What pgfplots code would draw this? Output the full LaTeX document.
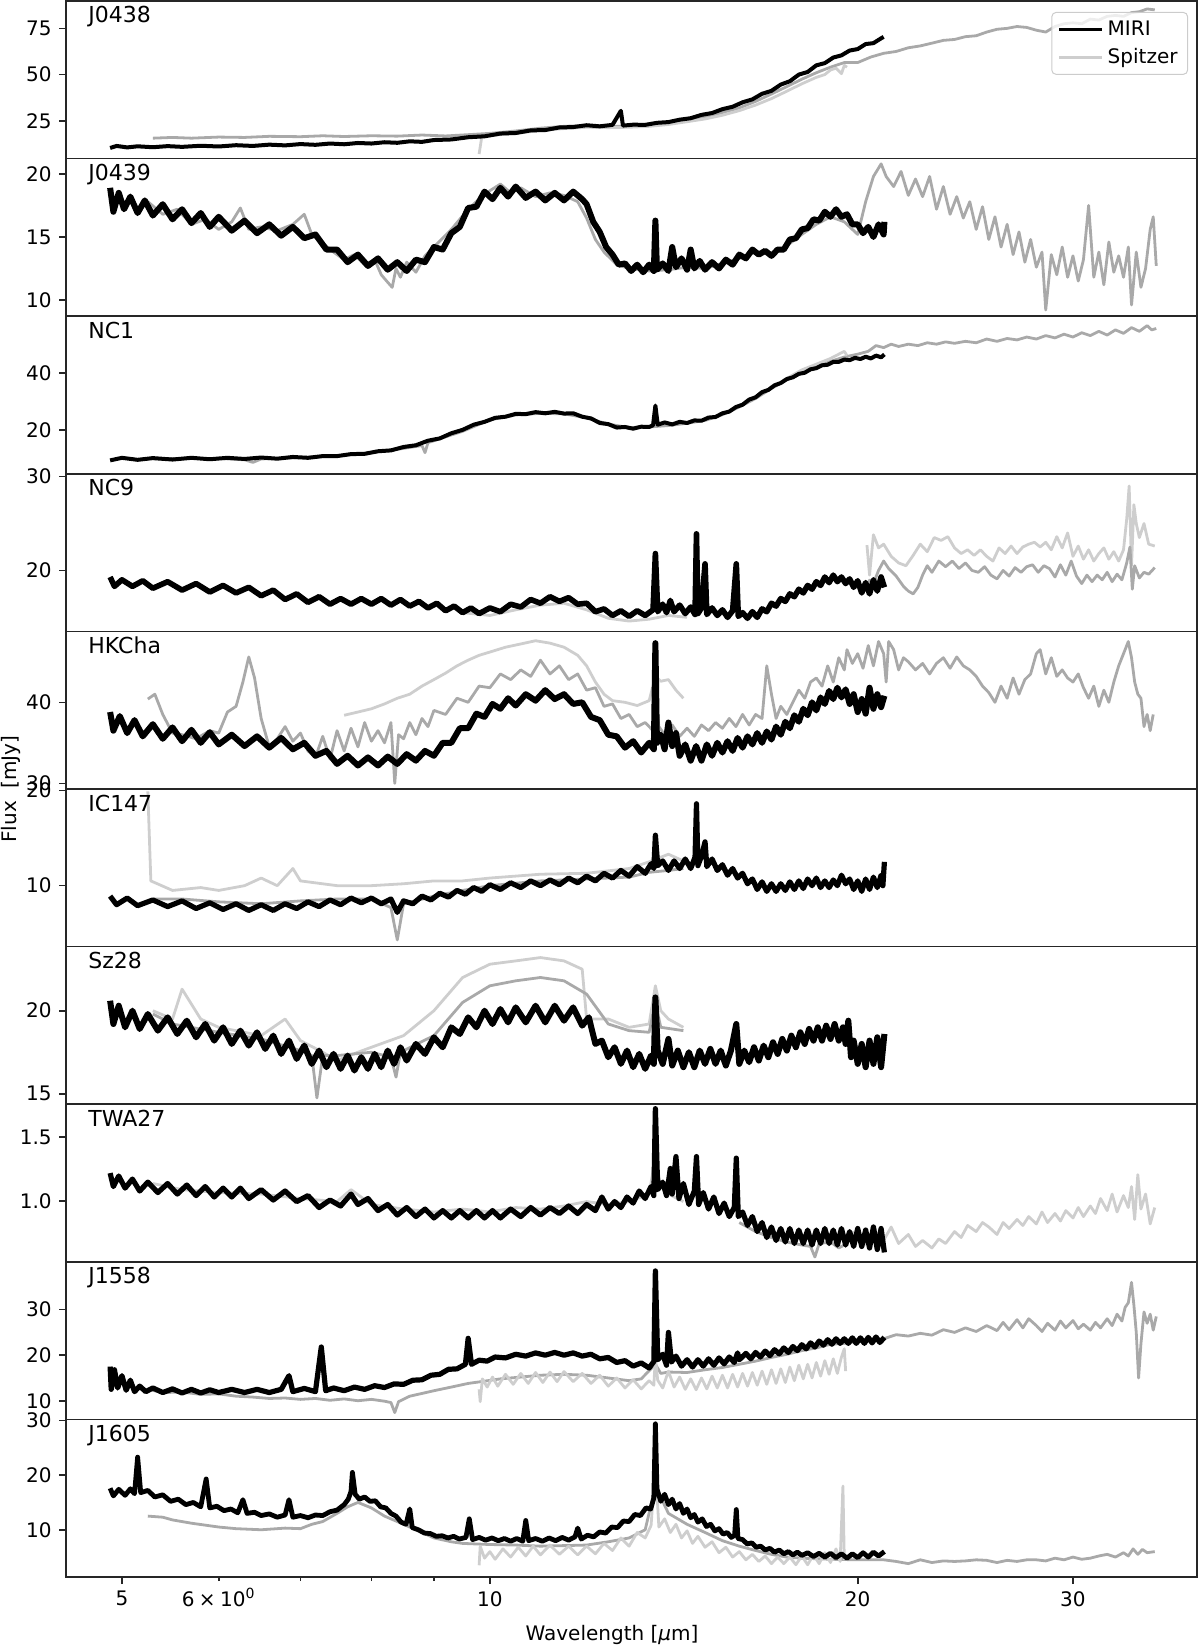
\documentclass[border=0pt]{standalone}
\usepackage{fontspec}
\setmainfont{DejaVu Sans}
\usepackage{pgfplots}
\pgfplotsset{compat=1.18}
\definecolor{spA}{HTML}{A9A9A9}
\definecolor{spB}{HTML}{CECECE}
\pgfplotsset{every axis/.append style={width=565.5pt, height=78.8pt, scale only axis, xmode=log, xmin=4.5, xmax=37.9,
  anchor=north west, axis line style={line width=0.8pt, black!85},
  tick style={line width=0.8pt, black!85}, major tick length=3.5pt, minor tick length=2pt,
  tick align=outside, xtick pos=left, ytick pos=left,
  ticklabel style={font=\fontsize{10}{12}\selectfont},
  yticklabel style={inner sep=0pt, anchor=east, xshift=-3.5pt}},
 every axis plot/.append style={line width=1.4pt, line join=round, mark=none},
 legend image code/.code={\draw[#1] (0pt,0pt) -- (21.5pt,0pt);}}
\newcommand{\plabel}[1]{\node[anchor=base west, inner sep=0pt, font=\fontsize{11}{13}\selectfont, xshift=11pt, yshift=-11pt] at (rel axis cs:0,1) {#1};}
\begin{document}
\begin{tikzpicture}
% ---------------- J0438
\begin{axis}[at={(0pt,0pt)}, xtick=\empty, ymin=4.55, ymax=89.8, ytick={25,50,75}, yticklabels={25,50,75},
 legend style={at={(rel axis cs:1,1)}, anchor=north east, xshift=-4.5pt, yshift=-5.5pt, draw=black!20, line width=0.5pt, rounded corners=2pt, fill=white, fill opacity=0.8, text opacity=1, inner xsep=3pt, inner ysep=2pt, font=\fontsize{10}{12}\selectfont, cells={anchor=west}, row sep=1pt}]
\addplot[spA, forget plot] coordinates {(5.3,15.6)(5.5,16.0)(5.7,15.6)(6.0,16.2)(6.3,16.0)(6.6,16.6)(7.0,16.4)(7.3,16.9)(7.6,16.5)(8.0,16.9)(8.4,16.7)(8.8,17.3)(9.2,16.8)(9.6,17.5)(10.0,18.2)(10.5,19.5)(11.0,21.0)(11.5,22.0)(12.0,22.5)(12.5,22.0)(13.0,22.0)(13.5,22.5)(14.0,23.5)(14.5,25.0)(15.0,27.0)(15.5,29.5)(16.0,32.0)(16.5,35.5)(17.0,39.5)(17.5,43.5)(18.0,47.5)(18.5,51.0)(19.0,54.0)(19.5,56.5)(20.0,56.5)(20.5,59.5)(21.0,61.5)(21.5,62.5)(22.0,64.5)(22.5,65.5)(23.0,67.0)(23.5,68.5)(24.0,69.0)(24.5,70.5)(25.0,71.0)(25.5,73.0)(26.0,74.5)(26.5,75.0)(27.0,76.0)(27.5,75.5)(28.0,74.0)(28.5,73.0)(29.0,76.0)(29.5,77.5)(30.0,78.0)(30.5,77.5)(31.0,80.0)(31.5,79.5)(32.0,81.5)(32.5,82.0)(33.0,81.5)(33.5,83.5)(34.0,84.0)(34.5,85.5)(35.0,85.0)};
\addplot[spB, forget plot] coordinates {(9.8,7.0)(9.85,16.5)(10.2,17.5)(10.6,18.5)(11.0,19.8)(11.5,20.8)(12.0,21.5)(12.5,21.3)(13.0,21.5)(13.5,22.0)(14.0,23.0)(14.5,24.5)(15.0,26.0)(15.5,28.0)(16.0,30.5)(16.5,33.5)(17.0,37.0)(17.5,41.0)(18.0,45.0)(18.5,48.5)(18.8,50.0)(19.0,52.5)(19.2,53.5)(19.4,50.5)(19.5,55.0)(19.6,54.0)};
\addplot[black, line width=2.0pt, forget plot] coordinates {(4.89,10.3)(4.95,11.4)(5.05,10.6)(5.15,11.2)(5.3,10.7)(5.45,11.3)(5.6,10.9)(5.8,11.5)(6.0,11.1)(6.2,11.8)(6.4,11.4)(6.6,12.1)(6.8,11.7)(7.0,12.4)(7.2,12.0)(7.4,12.7)(7.6,12.3)(7.8,13.0)(8.0,12.7)(8.2,13.4)(8.4,13.1)(8.6,13.9)(8.8,13.6)(9.0,14.6)(9.3,14.9)(9.6,16.1)(9.9,16.6)(10.2,18.1)(10.5,18.4)(10.8,19.8)(11.1,20.0)(11.4,21.4)(11.7,21.6)(12.0,22.6)(12.3,22.0)(12.6,22.8)(12.8,30.4)(12.85,22.4)(13.1,22.9)(13.4,22.8)(13.7,23.9)(14.0,24.3)(14.3,25.6)(14.6,26.4)(14.9,28.2)(15.2,29.2)(15.5,31.3)(15.8,32.6)(16.1,35.0)(16.4,36.6)(16.7,39.6)(17.0,41.2)(17.3,44.6)(17.6,46.4)(17.9,50.0)(18.2,51.4)(18.5,55.0)(18.8,56.2)(19.1,59.2)(19.4,60.4)(19.7,63.0)(20.0,63.8)(20.3,66.5)(20.6,67.0)(20.9,69.6)(21.0,70.4)};
\addlegendimage{black, line width=1.4pt}\addlegendentry{MIRI}
\addlegendimage{spB, line width=1.4pt}\addlegendentry{Spitzer}
\plabel{J0438}
\end{axis}
% ---------------- J0439
\begin{axis}[at={(0pt,-78.8pt)}, xtick=\empty, ymin=8.71, ymax=21.22, ytick={10,15,20}, yticklabels={10,15,20}]
\addplot[spA] coordinates {(5.25,17.8)(5.4,16.8)(5.55,17.2)(5.7,16.0)(5.85,16.4)(6.0,15.6)(6.15,16.2)(6.25,17.3)(6.35,15.6)(6.5,15.8)(6.7,15.5)(6.9,16.0)(7.05,16.8)(7.15,15.2)(7.3,14.5)(7.45,13.8)(7.6,13.2)(7.75,13.6)(7.9,12.8)(8.05,13.2)(8.15,12.0)(8.25,11.4)(8.32,11.0)(8.38,12.5)(8.45,11.8)(8.55,13.0)(8.7,12.2)(8.85,13.5)(9.0,14.2)(9.3,15.6)(9.6,17.2)(9.9,18.4)(10.2,19.2)(10.4,18.5)(10.6,18.9)(10.9,18.2)(11.2,18.5)(11.5,18.3)(11.8,17.8)(12.0,16.5)(12.2,14.8)(12.4,13.8)(12.7,12.8)(13.0,12.5)(13.5,12.3)(14.0,12.4)(14.5,12.6)(15.0,12.5)(15.5,12.9)(16.0,13.3)(16.5,13.8)(17.0,13.6)(17.5,14.3)(18.0,15.2)(18.5,16.0)(19.0,16.6)(19.5,16.2)(20.0,15.2)(20.3,17.8)(20.6,19.8)(20.9,20.8)(21.1,19.8)(21.4,19.0)(21.7,20.2)(22.0,18.3)(22.3,19.6)(22.6,18.2)(22.9,19.8)(23.2,17.2)(23.5,19.0)(23.8,16.8)(24.1,18.2)(24.4,16.5)(24.7,17.8)(25.0,15.6)(25.3,17.4)(25.6,14.8)(25.9,16.6)(26.2,14.2)(26.5,16.0)(26.8,13.6)(27.1,15.4)(27.4,13.0)(27.7,14.8)(28.0,12.6)(28.3,13.8)(28.5,9.2)(28.8,13.6)(29.1,12.0)(29.4,14.2)(29.7,11.8)(30.0,13.5)(30.3,11.5)(30.6,13.2)(30.9,17.5)(31.2,11.8)(31.5,13.8)(31.8,11.2)(32.1,14.6)(32.4,12.2)(32.7,13.5)(33.0,11.8)(33.3,14.2)(33.5,9.6)(33.8,13.8)(34.1,11.0)(34.4,12.5)(34.7,15.6)(34.9,16.6)(35.1,12.7)};
\addplot[black, line width=3.0pt] coordinates {(4.89,18.9)(4.92,17.0)(4.97,18.5)(5.02,17.2)(5.08,18.2)(5.15,16.9)(5.22,17.9)(5.3,16.7)(5.4,17.6)(5.5,16.4)(5.6,17.2)(5.7,16.1)(5.8,16.9)(5.9,15.8)(6.0,16.6)(6.15,15.5)(6.3,16.3)(6.45,15.3)(6.6,16.0)(6.75,15.1)(6.9,15.8)(7.05,14.9)(7.2,15.2)(7.35,14.0)(7.5,14.0)(7.65,13.0)(7.8,13.6)(7.95,12.7)(8.1,13.3)(8.25,12.4)(8.4,13.0)(8.55,12.3)(8.7,13.2)(8.85,13.0)(9.0,14.2)(9.15,14.0)(9.3,15.3)(9.45,15.8)(9.6,17.3)(9.75,17.4)(9.9,18.6)(10.05,18.0)(10.2,18.9)(10.35,18.2)(10.5,19.0)(10.7,18.1)(10.9,18.6)(11.1,17.9)(11.3,18.5)(11.5,17.9)(11.7,18.6)(11.9,18.0)(12.0,17.6)(12.15,16.2)(12.3,15.4)(12.45,14.2)(12.6,13.6)(12.75,12.8)(12.9,12.9)(13.05,12.3)(13.2,12.8)(13.35,12.2)(13.5,12.8)(13.62,12.3)(13.66,16.3)(13.7,12.4)(13.85,12.9)(14.0,12.3)(14.1,14.2)(14.2,12.6)(14.35,13.3)(14.5,12.4)(14.6,14.0)(14.7,12.5)(14.85,13.1)(15.0,12.4)(15.2,13.0)(15.4,12.5)(15.6,13.2)(15.8,12.8)(16.0,13.6)(16.2,13.3)(16.4,14.0)(16.6,13.6)(16.8,13.9)(17.0,13.5)(17.2,14.0)(17.4,14.0)(17.6,14.8)(17.8,14.9)(18.0,15.6)(18.2,15.7)(18.4,16.4)(18.6,16.3)(18.8,17.0)(19.0,16.6)(19.2,17.2)(19.4,16.6)(19.6,16.8)(19.8,16.0)(20.0,16.0)(20.2,15.3)(20.4,15.8)(20.6,15.0)(20.8,16.0)(21.0,15.2)(21.03,16.2)};
\plabel{J0439}
\end{axis}
% ---------------- NC1
\begin{axis}[at={(0pt,-157.6pt)}, xtick=\empty, ymin=4.6, ymax=59.8, ytick={20,40}, yticklabels={20,40}]
\addplot[spA] coordinates {(5.3,9.9)(6.0,10.0)(6.3,9.5)(6.4,8.6)(6.5,9.8)(7.0,10.3)(7.5,10.9)(8.0,12.0)(8.5,13.5)(8.8,14.5)(8.85,12.0)(8.9,15.5)(9.5,19.5)(10.0,23.5)(10.5,25.2)(11.0,25.8)(11.5,25.6)(12.0,24.2)(12.5,22.0)(13.0,20.8)(13.5,21.0)(14.0,21.5)(14.5,22.3)(15.0,23.3)(15.5,25.3)(16.0,28.0)(16.5,31.0)(17.0,34.5)(17.5,37.5)(18.0,40.0)(18.5,42.0)(19.0,44.0)(19.5,45.5)(20.0,46.5)(20.4,47.5)(20.7,49.5)(21.0,48.8)(21.3,50.0)(21.6,49.2)(22.0,50.0)(22.4,49.5)(22.8,50.5)(23.2,50.0)(23.6,50.8)(24.0,50.3)(24.5,51.0)(25.0,50.5)(25.5,51.8)(26.0,51.0)(26.5,52.0)(27.0,51.5)(27.5,52.5)(28.0,51.8)(28.5,53.0)(29.0,52.2)(29.5,53.5)(30.0,52.5)(30.5,54.0)(31.0,53.0)(31.5,54.5)(32.0,53.2)(32.5,55.0)(33.0,53.8)(33.5,55.8)(34.0,54.5)(34.5,56.5)(34.8,55.0)(35.1,55.5)};
\addplot[spB] coordinates {(17.5,38.0)(18.0,41.0)(18.5,43.0)(19.0,45.0)(19.5,47.5)(19.6,46.0)};
\addplot[black, line width=2.0pt] coordinates {(4.89,9.3)(5.0,10.2)(5.15,9.5)(5.3,10.1)(5.5,9.6)(5.7,10.2)(5.9,9.7)(6.1,10.2)(6.3,9.8)(6.5,10.3)(6.7,9.9)(6.9,10.5)(7.1,10.2)(7.3,10.8)(7.5,10.8)(7.7,11.5)(7.9,11.6)(8.1,12.5)(8.3,12.8)(8.5,14.0)(8.7,14.6)(8.9,16.2)(9.1,17.0)(9.3,18.8)(9.5,20.0)(9.7,21.8)(9.9,22.8)(10.1,24.2)(10.3,24.6)(10.5,25.6)(10.7,25.5)(10.9,26.2)(11.1,25.8)(11.3,26.3)(11.5,25.7)(11.7,25.8)(11.9,24.6)(12.1,24.0)(12.3,22.4)(12.5,22.0)(12.7,20.8)(12.9,21.0)(13.1,20.4)(13.3,21.1)(13.5,21.0)(13.6,21.6)(13.66,28.5)(13.72,21.8)(13.9,22.6)(14.1,21.9)(14.3,22.8)(14.5,22.4)(14.7,23.3)(14.9,23.2)(15.1,24.3)(15.3,24.5)(15.5,25.8)(15.7,26.4)(15.9,28.0)(16.1,28.8)(16.3,30.6)(16.5,31.4)(16.7,33.2)(16.9,34.0)(17.1,35.6)(17.3,36.4)(17.5,37.8)(17.7,38.4)(17.9,39.6)(18.1,40.0)(18.3,41.2)(18.5,41.6)(18.7,42.6)(18.9,42.8)(19.1,43.8)(19.3,43.8)(19.5,44.6)(19.7,44.4)(19.9,45.2)(20.1,44.8)(20.3,45.6)(20.5,45.0)(20.7,46.0)(20.9,45.4)(21.03,46.4)};
\plabel{NC1}
\end{axis}
% ---------------- NC9
\begin{axis}[at={(0pt,-236.4pt)}, xtick=\empty, ymin=13.5, ymax=30.3, ytick={20,30}, yticklabels={20,30}]
\addplot[spB] coordinates {(9.5,15.5)(10.0,15.2)(10.5,15.8)(11.0,16.3)(11.5,16.5)(12.0,15.8)(12.5,14.9)(13.0,14.6)(13.5,14.8)(14.0,15.2)(14.5,15.0)};
\addplot[spB] coordinates {(20.35,22.7)(20.45,19.5)(20.6,23.8)(20.8,22.4)(21.0,22.8)(21.3,21.5)(21.6,20.8)(21.9,20.5)(22.2,21.6)(22.5,22.8)(22.8,22.0)(23.1,23.5)(23.4,23.2)(23.7,23.6)(24.0,22.4)(24.3,21.8)(24.6,22.2)(24.9,21.6)(25.2,22.2)(25.5,21.5)(25.8,21.0)(26.1,22.4)(26.4,21.8)(26.7,22.6)(27.0,21.8)(27.3,22.5)(27.6,22.8)(27.9,23.0)(28.2,22.5)(28.5,23.0)(28.8,22.2)(29.1,23.6)(29.4,22.4)(29.7,24.0)(30.0,21.5)(30.3,22.6)(30.6,21.2)(30.9,22.2)(31.2,21.0)(31.5,21.8)(31.8,22.4)(32.1,21.2)(32.4,22.0)(32.7,21.0)(33.0,22.2)(33.2,25.5)(33.35,29.0)(33.5,20.5)(33.65,27.0)(33.8,25.0)(34.0,23.5)(34.3,25.0)(34.6,22.8)(35.0,22.6)};
\addplot[spA] coordinates {(20.4,19.0)(20.6,18.6)(20.8,20.0)(21.0,21.0)(21.2,20.2)(21.5,19.4)(21.8,18.3)(22.0,17.8)(22.2,17.5)(22.4,18.2)(22.6,19.5)(22.8,20.5)(23.0,19.8)(23.3,21.0)(23.6,20.4)(23.9,21.0)(24.2,20.2)(24.5,20.8)(24.8,20.0)(25.1,19.8)(25.4,20.4)(25.7,19.5)(26.0,19.1)(26.3,20.0)(26.6,19.4)(26.9,20.3)(27.2,19.8)(27.5,20.4)(27.8,20.6)(28.1,19.8)(28.4,20.5)(28.7,20.2)(29.0,19.3)(29.3,20.6)(29.6,19.5)(29.9,21.0)(30.2,19.4)(30.5,18.6)(30.8,19.5)(31.1,18.8)(31.4,19.5)(31.7,19.0)(32.0,19.8)(32.3,18.8)(32.6,19.6)(32.9,19.0)(33.2,20.8)(33.4,22.5)(33.55,18.0)(33.7,20.5)(34.0,19.2)(34.3,19.8)(34.6,19.6)(35.0,20.3)};
\addplot[black, line width=2.8pt] coordinates {(4.89,19.3)(4.93,18.3)(5.0,19.0)(5.1,18.3)(5.2,18.9)(5.3,18.1)(5.45,18.8)(5.6,17.9)(5.75,18.6)(5.9,17.7)(6.05,18.4)(6.2,17.6)(6.35,18.2)(6.5,17.3)(6.65,17.9)(6.8,16.9)(6.95,17.5)(7.1,16.6)(7.25,17.2)(7.4,16.4)(7.55,17.0)(7.7,16.4)(7.85,17.0)(8.0,16.4)(8.15,17.0)(8.3,16.3)(8.45,16.9)(8.6,16.2)(8.75,16.7)(8.9,16.0)(9.05,16.5)(9.2,15.7)(9.35,16.2)(9.5,15.5)(9.65,16.0)(9.8,15.4)(10.0,16.0)(10.2,15.6)(10.4,16.4)(10.6,16.1)(10.8,16.9)(11.0,16.5)(11.2,17.2)(11.4,16.7)(11.6,17.1)(11.8,16.4)(12.0,16.5)(12.2,15.6)(12.4,15.9)(12.6,15.2)(12.8,15.7)(13.0,15.1)(13.2,15.7)(13.4,15.2)(13.6,15.8)(13.66,21.8)(13.72,15.6)(13.85,16.4)(13.95,15.5)(14.05,16.8)(14.15,15.6)(14.3,16.3)(14.45,15.4)(14.6,16.1)(14.72,15.3)(14.76,23.9)(14.8,15.4)(14.9,16.0)(15.0,20.7)(15.05,15.3)(15.2,16.0)(15.35,15.2)(15.5,15.8)(15.65,15.0)(15.8,15.7)(15.91,20.7)(15.97,15.1)(16.1,15.5)(16.25,14.9)(16.4,15.6)(16.55,15.0)(16.7,15.9)(16.85,15.6)(17.0,16.5)(17.15,16.2)(17.3,17.0)(17.45,16.7)(17.6,17.5)(17.75,17.2)(17.9,18.0)(18.05,17.6)(18.2,18.4)(18.35,18.0)(18.5,18.8)(18.65,18.4)(18.8,19.3)(18.95,18.7)(19.1,19.5)(19.25,18.8)(19.4,19.3)(19.55,18.6)(19.7,19.1)(19.85,18.2)(20.0,18.9)(20.15,17.6)(20.3,18.7)(20.45,17.5)(20.6,19.0)(20.75,17.8)(20.9,19.3)(21.03,18.2)};
\plabel{NC9}
\end{axis}
% ---------------- HKCha
\begin{axis}[at={(0pt,-315.2pt)}, xtick=\empty, ymin=29.3, ymax=48.75, ytick={30,40}, yticklabels={30,40}]
\addplot[spB] coordinates {(7.6,38.4)(7.8,38.8)(8.0,39.2)(8.2,39.8)(8.4,40.5)(8.6,41.0)(8.8,42.0)(9.0,42.8)(9.2,43.6)(9.4,44.5)(9.6,45.2)(9.8,45.8)(10.0,46.2)(10.3,46.8)(10.6,47.2)(10.9,47.6)(11.2,47.3)(11.5,46.8)(11.8,45.8)(12.0,44.5)(12.2,42.5)(12.4,41.0)(12.6,40.2)(12.9,40.0)(13.2,39.6)(13.5,40.2)(13.66,43.2)(13.8,42.6)(14.0,42.8)(14.2,41.5)(14.4,40.5)};
\addplot[spA] coordinates {(5.25,40.4)(5.32,41.0)(5.4,38.5)(5.5,36.2)(5.6,36.0)(5.75,35.5)(5.9,36.5)(6.0,36.2)(6.1,38.8)(6.2,39.5)(6.28,42.5)(6.35,45.6)(6.42,43.0)(6.5,38.0)(6.6,34.5)(6.7,35.5)(6.8,37.0)(6.9,35.2)(7.0,36.2)(7.1,34.0)(7.2,33.2)(7.3,35.8)(7.4,33.0)(7.5,36.5)(7.6,34.0)(7.7,36.8)(7.8,34.5)(7.9,37.5)(8.0,35.2)(8.1,36.5)(8.2,35.0)(8.3,37.5)(8.36,30.0)(8.42,36.0)(8.5,35.5)(8.6,37.5)(8.7,36.0)(8.8,38.0)(8.9,37.0)(9.0,39.0)(9.2,38.5)(9.4,40.5)(9.6,40.0)(9.8,42.0)(10.0,41.8)(10.2,43.5)(10.4,42.8)(10.6,44.0)(10.8,43.2)(11.0,45.2)(11.2,43.5)(11.4,44.5)(11.6,42.8)(11.8,43.5)(12.0,41.5)(12.2,41.8)(12.4,39.5)(12.6,39.8)(12.8,38.0)(13.0,38.5)(13.2,37.0)(13.4,37.5)(13.6,36.5)(13.66,41.0)(13.75,37.0)(13.9,36.0)(14.1,37.2)(14.3,35.8)(14.5,36.8)(14.7,35.8)(14.9,37.2)(15.1,36.5)(15.3,37.5)(15.5,36.8)(15.7,38.0)(15.9,37.0)(16.1,38.5)(16.3,37.2)(16.5,38.5)(16.7,38.0)(16.85,44.5)(17.0,41.0)(17.15,38.0)(17.3,39.5)(17.5,38.5)(17.7,40.0)(17.9,41.5)(18.1,40.5)(18.3,42.5)(18.5,43.0)(18.7,42.0)(18.9,44.5)(19.1,42.5)(19.3,45.5)(19.5,44.0)(19.6,46.5)(19.8,44.8)(20.0,46.0)(20.2,44.2)(20.4,47.0)(20.6,44.5)(20.8,47.5)(21.0,46.0)(21.1,42.5)(21.2,47.5)(21.4,46.5)(21.6,44.0)(21.8,45.5)(22.0,45.0)(22.3,44.0)(22.6,44.8)(22.9,43.5)(23.2,44.8)(23.5,45.5)(23.8,44.2)(24.1,45.6)(24.4,44.5)(24.7,44.0)(25.0,43.2)(25.3,42.0)(25.6,41.2)(25.9,40.0)(26.2,42.0)(26.5,40.5)(26.8,43.0)(27.1,41.0)(27.4,42.8)(27.7,43.5)(28.0,46.0)(28.2,46.5)(28.5,43.5)(28.8,45.5)(29.1,43.2)(29.4,44.0)(29.7,43.0)(30.0,42.5)(30.3,43.5)(30.6,41.8)(30.9,40.5)(31.2,42.0)(31.5,39.5)(31.8,41.5)(32.1,40.0)(32.4,42.5)(32.7,44.5)(33.0,46.0)(33.3,47.5)(33.5,45.5)(33.7,42.5)(33.9,41.0)(34.1,40.5)(34.3,37.0)(34.5,38.5)(34.7,36.5)(34.9,38.5)};
\addplot[black, line width=3.0pt] coordinates {(4.89,38.8)(4.92,36.5)(4.98,38.3)(5.05,36.2)(5.12,37.8)(5.2,35.8)(5.3,37.3)(5.4,35.5)(5.5,36.9)(5.6,35.2)(5.7,36.6)(5.8,35.0)(5.9,36.3)(6.0,34.8)(6.15,36.0)(6.3,34.6)(6.45,35.8)(6.6,34.4)(6.75,35.6)(6.9,34.2)(7.05,35.0)(7.2,33.4)(7.35,34.0)(7.5,32.4)(7.65,33.4)(7.8,32.2)(7.95,33.2)(8.1,32.2)(8.25,33.3)(8.4,32.4)(8.55,33.6)(8.7,32.8)(8.85,34.0)(9.0,33.4)(9.15,35.0)(9.3,35.0)(9.45,36.8)(9.6,36.8)(9.75,38.6)(9.9,38.2)(10.05,39.8)(10.2,39.2)(10.35,40.5)(10.5,39.6)(10.7,41.0)(10.9,40.2)(11.1,41.5)(11.3,40.4)(11.5,41.0)(11.7,39.8)(11.9,40.0)(12.1,38.2)(12.3,37.8)(12.5,36.0)(12.7,35.8)(12.9,34.4)(13.1,35.2)(13.3,33.8)(13.5,35.0)(13.62,34.2)(13.66,47.3)(13.7,35.0)(13.8,36.0)(13.9,34.2)(14.0,37.5)(14.1,34.6)(14.2,36.2)(14.3,33.4)(14.45,34.8)(14.6,32.8)(14.75,34.6)(14.9,32.8)(15.05,34.8)(15.2,33.4)(15.35,35.0)(15.5,33.8)(15.65,35.2)(15.8,34.0)(15.95,35.6)(16.1,34.4)(16.25,35.8)(16.4,34.8)(16.55,36.2)(16.7,35.0)(16.85,36.4)(17.0,35.4)(17.15,37.0)(17.3,36.0)(17.45,37.6)(17.6,36.8)(17.75,38.4)(17.9,37.6)(18.05,39.2)(18.2,38.4)(18.35,40.0)(18.5,39.0)(18.65,40.6)(18.8,39.8)(18.95,41.4)(19.1,40.4)(19.25,41.8)(19.4,40.6)(19.55,41.6)(19.7,39.8)(19.85,41.0)(20.0,38.8)(20.15,40.4)(20.3,38.6)(20.45,41.8)(20.6,39.2)(20.75,41.0)(20.9,39.4)(21.03,40.8)};
\plabel{HKCha}
\end{axis}
% ---------------- IC147
\begin{axis}[at={(0pt,-394pt)}, xtick=\empty, ymin=3.6, ymax=20.15, ytick={10,20}, yticklabels={10,20}]
\addplot[spB] coordinates {(5.25,19.9)(5.28,10.5)(5.5,9.5)(5.8,9.8)(6.0,9.5)(6.3,10.0)(6.5,10.8)(6.7,10.0)(6.9,11.8)(7.0,10.5)(7.5,10.0)(8.0,10.0)(8.5,10.2)(9.0,10.5)(9.5,10.5)(10.0,10.8)(11.0,11.2)(12.0,11.3)(13.0,11.8)(13.5,12.5)(14.0,13.3)(14.4,12.6)};
\addplot[spA] coordinates {(5.3,8.6)(5.6,8.6)(6.0,8.3)(6.5,8.1)(7.0,8.4)(7.5,8.6)(8.0,8.6)(8.3,7.7)(8.4,4.3)(8.5,8.1)(9.0,8.9)(9.5,9.5)(10.0,10.0)(11.0,10.5)(12.0,10.7)(13.0,10.9)(13.5,11.4)(14.0,11.6)(14.4,11.8)};
\addplot[black, line width=2.6pt] coordinates {(4.89,8.9)(4.95,8.0)(5.05,8.7)(5.15,7.9)(5.3,8.5)(5.45,7.8)(5.6,8.4)(5.75,7.6)(5.9,8.2)(6.05,7.5)(6.2,8.1)(6.35,7.4)(6.5,8.0)(6.65,7.4)(6.8,8.1)(6.95,7.6)(7.1,8.3)(7.25,7.8)(7.4,8.5)(7.55,8.0)(7.7,8.7)(7.85,8.2)(8.0,8.7)(8.15,8.1)(8.3,8.6)(8.4,7.2)(8.5,8.4)(8.65,8.1)(8.8,8.9)(8.95,8.5)(9.1,9.2)(9.25,8.8)(9.4,9.5)(9.55,9.1)(9.7,9.8)(9.85,9.4)(10.0,10.1)(10.2,9.6)(10.4,10.3)(10.6,9.8)(10.8,10.5)(11.0,10.0)(11.2,10.6)(11.4,10.1)(11.6,10.8)(11.8,10.3)(12.0,11.0)(12.2,10.5)(12.4,11.3)(12.6,10.8)(12.8,11.6)(13.0,11.0)(13.2,12.0)(13.4,11.3)(13.55,12.3)(13.62,11.8)(13.66,15.3)(13.72,12.1)(13.85,12.6)(14.0,11.6)(14.15,12.6)(14.3,11.8)(14.45,12.8)(14.6,11.8)(14.72,13.0)(14.76,18.6)(14.8,12.1)(14.9,13.1)(15.0,14.6)(15.05,12.0)(15.2,12.8)(15.35,11.6)(15.5,12.2)(15.65,11.1)(15.8,11.8)(15.95,10.8)(16.1,11.3)(16.25,10.2)(16.4,10.7)(16.55,9.6)(16.7,10.4)(16.85,9.4)(17.0,10.2)(17.15,9.4)(17.3,10.2)(17.45,9.5)(17.6,10.4)(17.75,9.6)(17.9,10.5)(18.05,9.7)(18.2,10.7)(18.35,10.0)(18.5,10.8)(18.65,9.8)(18.8,10.5)(18.95,9.8)(19.1,10.6)(19.25,10.0)(19.4,11.1)(19.55,10.2)(19.7,10.7)(19.85,9.6)(20.0,10.5)(20.15,9.4)(20.3,10.7)(20.45,9.6)(20.6,10.9)(20.75,9.8)(20.9,11.1)(20.97,10.0)(21.03,12.5)};
\plabel{IC147}
\end{axis}
% ---------------- Sz28
\begin{axis}[at={(0pt,-472.8pt)}, xtick=\empty, ymin=14.37, ymax=23.86, ytick={15,20}, yticklabels={15,20}]
\addplot[spB] coordinates {(5.3,20.0)(5.5,19.5)(5.6,21.3)(5.8,19.5)(6.0,19.0)(6.5,18.5)(6.8,19.5)(7.0,18.2)(7.3,17.5)(7.5,17.0)(7.8,17.5)(8.0,17.8)(8.5,18.5)(9.0,20.0)(9.5,22.0)(10.0,22.8)(10.5,23.0)(11.0,23.2)(11.5,23.0)(11.9,22.5)(12.0,19.5)(12.5,19.5)(13.0,19.0)(13.5,19.2)(13.66,21.5)(13.8,20.0)(14.0,19.5)(14.4,19.0)};
\addplot[spA] coordinates {(5.3,19.8)(5.5,19.2)(6.0,18.7)(6.5,18.3)(7.0,17.6)(7.15,17.3)(7.22,14.75)(7.3,17.3)(7.5,17.3)(8.0,17.5)(8.3,17.2)(8.38,16.0)(8.45,17.5)(9.0,18.5)(9.5,20.5)(10.0,21.5)(10.5,21.8)(11.0,22.0)(11.5,21.8)(12.0,21.0)(12.5,19.2)(13.0,18.8)(13.5,18.7)(13.66,20.5)(13.8,19.0)(14.4,18.8)};
\addplot[black, line width=3.0pt] coordinates {(4.89,20.6)(4.92,19.2)(4.97,20.3)(5.03,19.0)(5.1,20.0)(5.17,18.9)(5.25,19.8)(5.35,18.8)(5.45,19.6)(5.55,18.6)(5.65,19.4)(5.75,18.4)(5.85,19.2)(5.95,18.2)(6.05,19.0)(6.15,18.0)(6.25,18.8)(6.35,17.9)(6.45,18.7)(6.55,17.7)(6.65,18.5)(6.75,17.4)(6.85,18.2)(6.95,17.1)(7.05,17.9)(7.15,16.8)(7.25,17.6)(7.35,16.6)(7.45,17.4)(7.55,16.5)(7.65,17.3)(7.75,16.4)(7.85,17.2)(7.95,16.5)(8.05,17.4)(8.15,16.6)(8.25,17.6)(8.35,16.8)(8.45,17.8)(8.55,17.0)(8.7,18.0)(8.85,17.4)(9.0,18.4)(9.15,17.8)(9.3,19.0)(9.45,18.6)(9.6,19.6)(9.75,19.0)(9.9,20.0)(10.05,19.2)(10.2,20.1)(10.35,19.3)(10.5,20.2)(10.7,19.3)(10.9,20.3)(11.1,19.3)(11.3,20.3)(11.5,19.4)(11.7,20.2)(11.9,19.1)(12.05,19.6)(12.2,18.0)(12.35,18.2)(12.5,17.2)(12.65,17.8)(12.8,16.8)(12.95,17.6)(13.1,16.6)(13.25,17.4)(13.4,16.5)(13.55,17.3)(13.62,16.8)(13.66,20.8)(13.72,17.6)(13.85,16.8)(14.0,18.3)(14.1,16.7)(14.25,17.6)(14.4,16.6)(14.55,17.5)(14.7,16.6)(14.85,17.6)(15.0,16.8)(15.15,17.7)(15.3,16.8)(15.45,17.6)(15.6,16.7)(15.75,17.6)(15.91,19.2)(16.0,16.8)(16.15,17.6)(16.3,16.9)(16.45,17.8)(16.6,17.0)(16.75,17.9)(16.9,17.2)(17.05,18.1)(17.2,17.4)(17.35,18.3)(17.5,17.6)(17.65,18.5)(17.8,17.8)(17.95,18.7)(18.1,18.0)(18.25,18.9)(18.4,18.2)(18.55,19.0)(18.7,18.2)(18.85,19.1)(19.0,18.3)(19.15,19.2)(19.3,18.2)(19.45,19.0)(19.55,18.0)(19.65,19.4)(19.75,17.2)(19.85,18.2)(20.0,16.8)(20.15,18.0)(20.3,16.6)(20.45,18.2)(20.6,16.8)(20.75,18.4)(20.9,16.6)(21.03,18.6)};
\plabel{Sz28}
\end{axis}
% ---------------- TWA27
\begin{axis}[at={(0pt,-551.6pt)}, xtick=\empty, ymin=0.52, ymax=1.76, ytick={1.0,1.5}, yticklabels={1.0,1.5}]
\addplot[spB] coordinates {(5.3,1.136)(5.6,1.088)(6.0,1.065)(6.5,1.053)(7.0,1.018)(7.5,0.994)(7.7,1.088)(8.0,0.971)(8.5,0.935)(9.0,0.912)(9.5,0.935)(10.0,0.912)(10.5,0.947)(11.0,0.935)(11.5,0.959)(12.0,0.994)(12.5,0.971)(13.0,0.994)(13.5,1.053)(13.66,1.348)(13.8,1.112)(14.0,1.053)(14.4,0.994)};
\addplot[spB] coordinates {(19.8,0.758)(20.2,0.641)(20.6,0.735)(21.0,0.688)(21.3,0.794)(21.6,0.664)(22.0,0.735)(22.3,0.641)(22.6,0.688)(23.0,0.629)(23.3,0.700)(23.6,0.664)(24.0,0.758)(24.3,0.711)(24.6,0.806)(25.0,0.758)(25.3,0.829)(25.6,0.794)(26.0,0.735)(26.3,0.829)(26.6,0.782)(27.0,0.853)(27.3,0.806)(27.6,0.876)(28.0,0.818)(28.3,0.912)(28.6,0.829)(29.0,0.900)(29.3,0.841)(29.6,0.923)(30.0,0.865)(30.3,0.947)(30.6,0.876)(31.0,0.959)(31.3,0.900)(31.6,1.018)(32.0,0.923)(32.3,1.053)(32.6,0.912)(33.0,1.041)(33.3,0.947)(33.5,1.112)(33.7,0.853)(33.9,1.206)(34.1,0.935)(34.4,1.053)(34.7,0.818)(35.0,0.947)};
\addplot[spA] coordinates {(16.0,0.829)(16.5,0.758)(17.0,0.711)(17.5,0.676)(18.0,0.652)(18.3,0.641)(18.45,0.558)(18.6,0.664)(19.0,0.676)(19.3,0.629)(19.6,0.664)};
\addplot[black, line width=2.6pt] coordinates {(4.89,1.218)(4.92,1.112)(4.97,1.195)(5.03,1.100)(5.1,1.171)(5.17,1.077)(5.25,1.147)(5.35,1.065)(5.45,1.136)(5.55,1.053)(5.65,1.124)(5.75,1.041)(5.85,1.112)(5.95,1.030)(6.05,1.100)(6.15,1.030)(6.25,1.100)(6.35,1.018)(6.5,1.088)(6.65,1.006)(6.8,1.077)(6.95,0.994)(7.1,1.041)(7.25,0.947)(7.4,1.006)(7.55,0.959)(7.7,1.053)(7.8,0.971)(7.95,1.018)(8.1,0.923)(8.25,0.971)(8.4,0.888)(8.55,0.947)(8.7,0.876)(8.85,0.935)(9.0,0.865)(9.15,0.923)(9.3,0.865)(9.45,0.923)(9.6,0.865)(9.75,0.923)(9.9,0.865)(10.05,0.923)(10.2,0.865)(10.4,0.935)(10.6,0.876)(10.8,0.947)(11.0,0.888)(11.2,0.947)(11.4,0.900)(11.6,0.959)(11.8,0.900)(12.0,0.971)(12.2,0.923)(12.35,1.030)(12.5,0.935)(12.65,0.994)(12.8,0.947)(12.95,1.030)(13.1,0.982)(13.25,1.077)(13.4,1.018)(13.55,1.112)(13.62,1.041)(13.66,1.725)(13.72,1.088)(13.85,1.147)(13.95,1.041)(14.05,1.254)(14.1,1.053)(14.2,1.348)(14.28,1.018)(14.4,1.136)(14.55,0.971)(14.7,1.077)(14.76,1.348)(14.82,0.971)(14.95,1.065)(15.1,0.935)(15.25,1.030)(15.4,0.900)(15.55,0.982)(15.7,0.876)(15.85,0.947)(15.91,1.336)(15.97,0.876)(16.1,0.912)(16.25,0.806)(16.4,0.876)(16.55,0.758)(16.7,0.829)(16.85,0.711)(17.0,0.794)(17.15,0.688)(17.3,0.782)(17.45,0.676)(17.6,0.782)(17.75,0.664)(17.9,0.770)(18.05,0.664)(18.2,0.770)(18.35,0.652)(18.5,0.770)(18.65,0.664)(18.8,0.782)(18.95,0.664)(19.1,0.770)(19.25,0.652)(19.4,0.782)(19.55,0.652)(19.7,0.758)(19.85,0.641)(20.0,0.782)(20.15,0.641)(20.3,0.770)(20.45,0.629)(20.6,0.794)(20.75,0.617)(20.9,0.782)(21.03,0.594)};
\plabel{TWA27}
\end{axis}
% ---------------- J1558
\begin{axis}[at={(0pt,-630.4pt)}, xtick=\empty, ymin=5.9, ymax=40.5, ytick={10,20,30}, yticklabels={10,20,30}]
\addplot[spA] coordinates {(5.25,12.5)(5.4,11.8)(5.6,11.9)(5.8,11.4)(6.0,11.5)(6.2,11.0)(6.4,10.8)(6.6,10.5)(6.8,10.6)(7.0,10.3)(7.2,10.5)(7.4,10.1)(7.6,10.4)(7.8,10.0)(8.0,10.3)(8.2,9.9)(8.3,9.6)(8.36,7.4)(8.42,9.8)(8.6,11.0)(8.8,11.6)(9.0,12.2)(9.3,13.0)(9.6,13.8)(9.9,14.3)(10.2,14.8)(10.6,15.2)(11.0,15.6)(11.5,15.8)(12.0,15.6)(12.5,15.0)(13.0,14.4)(13.3,14.8)(13.66,18.0)(13.8,16.0)(14.0,16.3)(14.5,16.2)(15.0,16.8)(15.5,17.3)(16.0,18.0)(16.5,18.7)(17.0,19.5)(17.5,20.2)(18.0,21.0)(18.5,21.6)(19.0,22.4)(19.5,22.6)(20.0,23.0)(20.5,23.3)(21.0,23.6)(21.5,24.5)(22.0,24.2)(22.5,24.8)(23.0,24.4)(23.5,25.6)(24.0,25.0)(24.5,26.0)(25.0,25.2)(25.5,26.5)(26.0,25.4)(26.3,27.2)(26.6,25.6)(27.0,27.8)(27.3,26.0)(27.6,28.0)(28.0,26.5)(28.3,25.2)(28.6,27.0)(29.0,25.5)(29.3,27.5)(29.6,26.0)(30.0,27.6)(30.3,25.8)(30.6,26.8)(31.0,25.5)(31.3,27.2)(31.6,26.0)(32.0,28.0)(32.3,26.5)(32.6,29.0)(32.9,27.5)(33.1,30.5)(33.3,31.5)(33.5,36.0)(33.65,31.0)(33.8,25.0)(33.95,15.0)(34.1,22.5)(34.3,29.5)(34.5,27.0)(34.7,29.0)(34.9,25.5)(35.1,28.5)};
\addplot[spB] coordinates {(9.8,12.5)(9.82,9.8)(9.86,14.8)(9.95,13.0)(10.05,15.2)(10.15,13.2)(10.3,15.8)(10.45,13.6)(10.6,16.0)(10.75,13.8)(10.9,16.2)(11.05,14.0)(11.2,16.3)(11.35,14.2)(11.5,16.4)(11.7,14.2)(11.9,16.0)(12.1,13.8)(12.3,15.6)(12.5,13.2)(12.7,15.0)(12.9,12.8)(13.1,14.6)(13.3,12.6)(13.5,14.4)(13.62,13.4)(13.66,19.5)(13.72,14.5)(13.85,12.8)(14.0,16.5)(14.15,13.0)(14.3,15.2)(14.45,12.5)(14.6,14.8)(14.75,12.4)(14.9,15.0)(15.05,12.6)(15.2,15.4)(15.35,12.8)(15.5,15.6)(15.65,12.8)(15.8,15.8)(15.95,13.0)(16.1,16.0)(16.25,13.2)(16.4,16.2)(16.55,13.4)(16.7,16.5)(16.85,13.6)(17.0,16.8)(17.15,13.8)(17.3,17.0)(17.45,14.0)(17.6,17.4)(17.75,14.4)(17.9,17.8)(18.05,14.8)(18.2,18.0)(18.35,15.0)(18.5,18.4)(18.65,15.4)(18.8,18.8)(18.95,15.8)(19.1,19.2)(19.25,16.0)(19.4,19.6)(19.5,21.4)(19.55,16.5)};
\addplot[black, line width=2.6pt] coordinates {(4.89,17.5)(4.9,12.5)(4.93,16.8)(4.96,12.8)(5.0,15.5)(5.04,12.3)(5.08,14.5)(5.12,12.0)(5.17,13.2)(5.23,12.0)(5.3,12.8)(5.4,11.8)(5.5,12.6)(5.6,11.7)(5.7,12.5)(5.8,11.7)(5.9,12.4)(6.0,11.8)(6.15,12.5)(6.3,11.8)(6.45,12.5)(6.6,11.8)(6.75,12.5)(6.85,15.5)(6.9,12.0)(7.05,12.7)(7.2,12.0)(7.28,21.8)(7.34,12.2)(7.45,12.8)(7.6,12.2)(7.75,13.0)(7.9,12.5)(8.05,13.3)(8.2,12.9)(8.35,13.7)(8.5,13.6)(8.65,14.5)(8.8,14.6)(8.95,15.6)(9.1,15.8)(9.25,16.9)(9.4,17.0)(9.55,18.0)(9.6,23.7)(9.66,18.0)(9.8,18.9)(9.95,18.7)(10.1,19.6)(10.3,19.4)(10.5,20.2)(10.7,19.8)(10.9,20.5)(11.1,20.0)(11.3,20.6)(11.5,20.0)(11.7,20.5)(11.9,19.8)(12.1,20.2)(12.3,19.2)(12.5,19.5)(12.7,18.4)(12.9,18.8)(13.1,17.6)(13.3,18.3)(13.5,17.2)(13.62,18.6)(13.66,38.5)(13.72,19.0)(13.85,20.2)(13.95,17.8)(14.0,25.0)(14.08,18.5)(14.2,19.8)(14.35,17.6)(14.5,19.0)(14.65,17.4)(14.8,19.0)(14.95,17.6)(15.1,19.2)(15.25,17.8)(15.4,19.4)(15.55,18.1)(15.7,19.6)(15.85,18.4)(15.95,20.5)(16.0,19.0)(16.2,20.4)(16.35,19.2)(16.5,20.6)(16.65,19.6)(16.8,20.9)(16.95,19.9)(17.1,21.2)(17.25,20.3)(17.4,21.6)(17.55,20.6)(17.7,21.9)(17.85,21.0)(18.0,22.3)(18.15,21.4)(18.3,22.7)(18.45,21.8)(18.6,23.1)(18.75,22.2)(18.9,23.4)(19.05,22.4)(19.2,23.6)(19.35,22.6)(19.5,23.6)(19.65,22.6)(19.8,23.8)(19.95,22.6)(20.1,23.8)(20.25,22.6)(20.4,23.9)(20.55,22.7)(20.7,24.0)(20.85,22.8)(21.03,23.9)};
\plabel{J1558}
\end{axis}
% ---------------- J1605
\begin{axis}[at={(0pt,-709.2pt)}, ymin=1.35, ymax=30.2, ytick={10,20,30}, yticklabels={10,20,30},
 xtick={5,10,20,30}, xticklabels={5,10,20,30}, minor xtick={7,8,9},
 extra x ticks={6}, extra x tick labels={6\hspace{0.22em}×\hspace{0.22em}10\textsuperscript{0}}, extra x tick style={major tick length=2pt},
 xticklabel style={anchor=north, inner sep=0pt, yshift=-3.5pt}]
\addplot[spA] coordinates {(5.25,12.5)(5.4,12.3)(5.5,11.8)(5.7,11.2)(6.0,10.5)(6.2,10.2)(6.5,10.0)(6.8,10.3)(7.0,10.2)(7.15,11.0)(7.3,11.5)(7.5,13.0)(7.65,14.2)(7.8,15.0)(8.0,14.0)(8.2,12.5)(8.5,11.0)(8.8,9.5)(9.0,8.5)(9.3,7.8)(9.5,7.5)(10.0,7.3)(10.5,7.2)(11.0,7.0)(11.5,7.1)(12.0,7.2)(12.5,7.8)(13.0,8.5)(13.4,10.0)(13.66,18.0)(14.0,13.0)(14.5,11.0)(15.0,9.5)(15.5,8.0)(16.0,7.0)(16.5,6.2)(17.0,5.5)(17.5,5.0)(18.0,4.8)(19.0,4.6)(20.0,4.5)(21.0,4.5)(21.5,4.2)(22.0,3.8)(22.5,4.5)(23.0,4.0)(23.5,4.3)(24.0,4.2)(24.5,4.3)(25.0,4.5)(25.5,4.4)(26.0,4.0)(26.5,4.4)(27.0,4.2)(27.5,4.5)(28.0,4.5)(28.5,4.3)(29.0,4.8)(29.5,4.5)(30.0,5.0)(30.5,4.6)(31.0,4.8)(31.5,5.2)(32.0,5.5)(32.5,5.0)(33.0,5.8)(33.3,5.2)(33.6,6.5)(33.9,5.5)(34.2,6.4)(34.5,5.8)(35.0,6.0)};
\addplot[spB] coordinates {(9.8,3.5)(9.82,7.0)(9.9,4.8)(10.0,6.0)(10.1,4.6)(10.25,6.5)(10.4,5.0)(10.55,6.8)(10.7,5.2)(10.85,7.0)(11.0,5.4)(11.2,7.2)(11.4,5.5)(11.6,7.0)(11.8,5.4)(12.0,7.0)(12.2,5.6)(12.4,7.5)(12.6,6.2)(12.8,8.5)(13.0,7.0)(13.2,9.5)(13.4,8.5)(13.55,10.8)(13.66,22.0)(13.75,10.5)(13.9,12.0)(14.05,9.5)(14.2,11.0)(14.35,8.5)(14.5,9.8)(14.65,7.5)(14.8,8.8)(15.0,6.8)(15.2,7.8)(15.4,5.8)(15.6,6.8)(15.8,5.0)(16.0,6.0)(16.2,4.5)(16.4,5.5)(16.6,4.2)(16.8,5.2)(17.0,3.8)(17.2,5.0)(17.4,3.8)(17.6,5.0)(17.8,3.6)(18.0,5.2)(18.2,3.6)(18.4,5.4)(18.6,3.8)(18.8,5.8)(19.0,4.0)(19.2,6.5)(19.35,4.2)(19.45,18.0)(19.5,4.5)};
\addplot[black, line width=2.4pt] coordinates {(4.89,17.6)(4.92,16.2)(4.97,17.4)(5.03,16.3)(5.08,17.5)(5.12,16.6)(5.15,23.3)(5.18,16.8)(5.25,17.2)(5.32,16.0)(5.4,16.4)(5.48,15.2)(5.56,15.6)(5.64,14.6)(5.72,15.0)(5.8,14.2)(5.86,19.3)(5.9,14.0)(5.98,14.3)(6.06,13.5)(6.14,13.8)(6.22,13.1)(6.28,15.5)(6.33,13.0)(6.42,13.2)(6.5,12.6)(6.6,12.9)(6.7,12.3)(6.8,12.7)(6.85,15.5)(6.9,12.3)(7.0,12.6)(7.1,12.2)(7.2,12.7)(7.3,12.6)(7.4,13.3)(7.5,13.6)(7.6,14.6)(7.66,15.6)(7.7,17.0)(7.72,20.5)(7.76,16.5)(7.82,15.6)(7.9,16.0)(7.98,15.2)(8.06,15.3)(8.14,14.2)(8.22,14.0)(8.3,13.0)(8.38,12.5)(8.46,11.4)(8.54,11.0)(8.6,13.8)(8.64,10.4)(8.74,10.0)(8.84,9.4)(8.94,9.3)(9.04,8.8)(9.14,8.9)(9.24,8.5)(9.34,8.8)(9.44,8.3)(9.56,8.6)(9.62,12.0)(9.68,8.2)(9.8,8.6)(9.92,8.1)(10.04,8.5)(10.16,8.0)(10.28,8.4)(10.4,7.9)(10.52,8.4)(10.64,7.9)(10.7,11.7)(10.76,8.0)(10.9,8.4)(11.04,7.9)(11.18,8.5)(11.32,8.0)(11.46,8.6)(11.6,8.1)(11.74,8.7)(11.8,10.3)(11.88,8.3)(12.02,9.0)(12.16,8.7)(12.3,9.6)(12.44,9.4)(12.58,10.5)(12.72,10.4)(12.86,11.6)(13.0,11.5)(13.14,12.8)(13.28,12.6)(13.42,14.0)(13.54,13.8)(13.62,15.8)(13.66,29.4)(13.7,17.5)(13.8,15.2)(13.9,16.5)(14.0,14.6)(14.1,15.6)(14.2,13.8)(14.3,14.8)(14.4,13.0)(14.5,13.8)(14.6,12.2)(14.7,12.8)(14.8,11.4)(14.92,12.0)(15.04,10.6)(15.16,11.0)(15.28,9.8)(15.4,10.2)(15.52,9.2)(15.64,9.5)(15.76,8.6)(15.86,9.0)(15.91,13.7)(15.96,8.4)(16.1,8.2)(16.24,7.4)(16.38,7.6)(16.52,6.8)(16.66,7.0)(16.8,6.3)(16.95,6.6)(17.1,5.9)(17.25,6.3)(17.4,5.6)(17.55,6.0)(17.7,5.4)(17.85,5.9)(18.0,5.3)(18.2,5.8)(18.4,5.1)(18.6,5.7)(18.8,5.0)(19.0,5.7)(19.2,4.9)(19.4,5.6)(19.6,4.8)(19.8,5.6)(20.0,4.9)(20.2,5.8)(20.4,5.0)(20.6,5.9)(20.8,5.2)(21.03,6.0)};
\plabel{J1605}
\end{axis}
\node[rotate=90, font=\fontsize{10}{12}\selectfont, inner sep=0pt] at (-27.5pt,-394pt) {Flux\ \ [mJy]};
\node[anchor=base, font=\fontsize{10}{12}\selectfont, inner sep=0pt] at (273pt,-819.5pt) {Wavelength [\textit{μ}m]};
\pgfresetboundingbox
\path[use as bounding box] (-33pt,0.5pt) rectangle (567pt,-823pt);
\end{tikzpicture}
\end{document}
